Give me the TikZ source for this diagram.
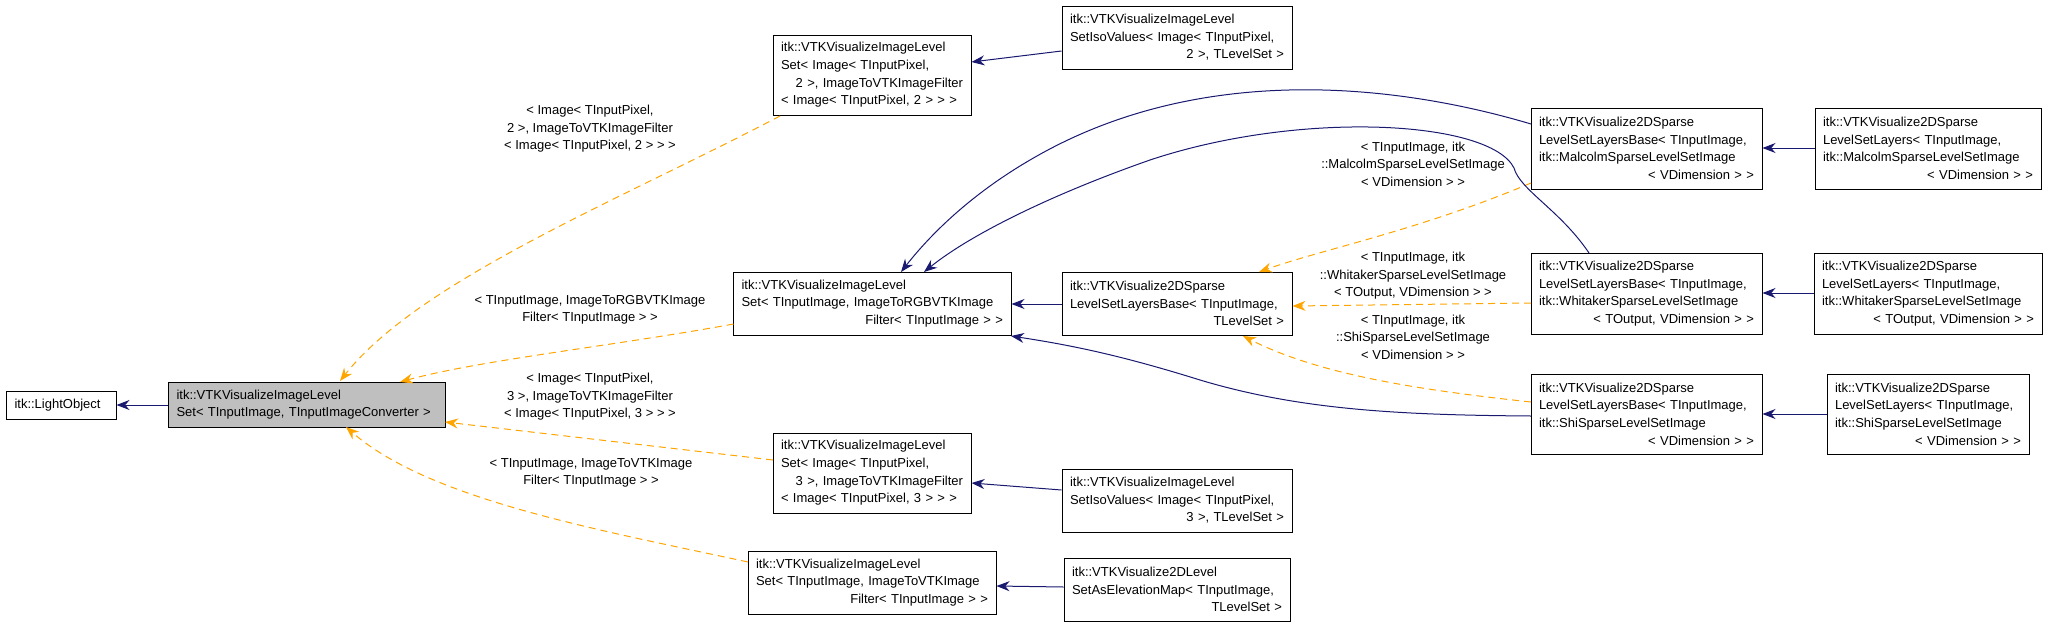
\documentclass[tikz,border=0pt]{standalone}
\usepackage{fontspec}
\setmainfont{Liberation Sans}
\usetikzlibrary{arrows.meta}
\definecolor{nv}{HTML}{191970}
\definecolor{og}{HTML}{FFA500}
\begin{document}
\begin{tikzpicture}[x=1pt,y=-1pt,
  every node/.style={font=\fontsize{13}{17.6}\selectfont},
  bx/.style={draw=black,line width=1pt,inner sep=0pt,fill=white},
  nav/.style={draw=nv,line width=1pt,-{Stealth[length=13pt,width=10pt]}},
  org/.style={draw=og,line width=1pt,dash pattern=on 7pt off 5pt,-{Stealth[length=13pt,width=10pt]}},
  lb/.style={align=center,inner sep=0pt}]
\useasboundingbox (0,0) rectangle (2048,624);
\newcommand{\bxx}[7][white]{%
  \node[bx,fill=#1,minimum width={#5-#3},minimum height={#6-#4},text width={#5-#3-16},align=left] (#2) at ({(#3+#5)/2},{(#4+#6)/2}) {#7};}
\newcommand{\cl}[1]{\hspace*{\fill}#1\hspace*{\fill}}
\bxx{light}{6.5}{391}{116}{419}{itk::LightObject}
\bxx[black!25]{main}{168.5}{382}{445}{427}{itk::VTKVisualizeImageLevel\\Set< TInputImage, TInputImageConverter >}
\bxx{atwo}{773}{35}{971}{115}{itk::VTKVisualizeImageLevel\\Set< Image< TInputPixel,\\\cl{2 >, ImageToVTKImageFilter}\\< Image< TInputPixel, 2 > > >}
\bxx{rgb}{733.5}{272}{1011}{335}{itk::VTKVisualizeImageLevel\\Set< TInputImage, ImageToRGBVTKImage\\\cl{Filter< TInputImage > >}}
\bxx{athree}{773}{433}{971}{513}{itk::VTKVisualizeImageLevel\\Set< Image< TInputPixel,\\\cl{3 >, ImageToVTKImageFilter}\\< Image< TInputPixel, 3 > > >}
\bxx{vtk}{748}{551}{996}{614}{itk::VTKVisualizeImageLevel\\Set< TInputImage, ImageToVTKImage\\\cl{Filter< TInputImage > >}}
\bxx{isotwo}{1062}{6}{1292}{69}{itk::VTKVisualizeImageLevel\\SetIsoValues< Image< TInputPixel,\\\cl{2 >, TLevelSet >}}
\bxx{sparse}{1062}{272}{1292}{335}{itk::VTKVisualize2DSparse\\LevelSetLayersBase< TInputImage,\\\cl{TLevelSet >}}
\bxx{isothree}{1062}{469}{1292}{532}{itk::VTKVisualizeImageLevel\\SetIsoValues< Image< TInputPixel,\\\cl{3 >, TLevelSet >}}
\bxx{elev}{1064}{558}{1290}{621}{itk::VTKVisualize2DLevel\\SetAsElevationMap< TInputImage,\\\cl{TLevelSet >}}
\bxx{mb}{1531}{108}{1762}{189}{itk::VTKVisualize2DSparse\\LevelSetLayersBase< TInputImage,\\itk::MalcolmSparseLevelSetImage\\\cl{< VDimension > >}}
\bxx{wb}{1531}{253}{1762}{334}{itk::VTKVisualize2DSparse\\LevelSetLayersBase< TInputImage,\\itk::WhitakerSparseLevelSetImage\\\cl{< TOutput, VDimension > >}}
\bxx{sb}{1531}{374}{1762}{454}{itk::VTKVisualize2DSparse\\LevelSetLayersBase< TInputImage,\\itk::ShiSparseLevelSetImage\\\cl{< VDimension > >}}
\bxx{ml}{1815}{108}{2041}{189}{itk::VTKVisualize2DSparse\\LevelSetLayers< TInputImage,\\itk::MalcolmSparseLevelSetImage\\\cl{< VDimension > >}}
\bxx{wl}{1814}{253}{2042}{334}{itk::VTKVisualize2DSparse\\LevelSetLayers< TInputImage,\\itk::WhitakerSparseLevelSetImage\\\cl{< TOutput, VDimension > >}}
\bxx{sl}{1827}{374}{2029}{454}{itk::VTKVisualize2DSparse\\LevelSetLayers< TInputImage,\\itk::ShiSparseLevelSetImage\\\cl{< VDimension > >}}
% coordinates
\coordinate (a2s) at (780,116); \coordinate (m1) at (340,381);
\coordinate (rgbs) at (733.5,324); \coordinate (m2) at (400,382);
\coordinate (a3s) at (773,460); \coordinate (m3) at (445,422);
\coordinate (vs) at (748,562); \coordinate (m4) at (346,427);
% orange
\draw[org] (a2s) .. controls (620,200) and (420,280) .. (m1);
\draw[org] (rgbs) .. controls (620,345) and (480,360) .. (m2);
\draw[org] (a3s) -- (m3);
\draw[org] (vs) .. controls (600,530) and (430,500) .. (m4);
\draw[org] (1531,183) .. controls (1420,230) and (1320,250) .. (1259,272);
\draw[org] (1531,303) -- (sparse.east |- 0,306);
\draw[org] (1531,402) .. controls (1420,390) and (1320,375) .. (1243,336);
% navy
\draw[nav] (main.west |- 0,405) -- (light.east |- 0,405);
\draw[nav] (isotwo.west |- 0,51) -- (atwo.east |- 0,62);
\draw[nav] (sparse.west |- 0,304) -- (rgb.east |- 0,304);
\draw[nav] (isothree.west |- 0,490) -- (atwo.east |- 0,483);
\draw[nav] (elev.west |- 0,587) -- (vtk.east |- 0,586);
\draw[nav] (ml.west |- 0,148) -- (mb.east |- 0,148);
\draw[nav] (wl.west |- 0,293) -- (wb.east |- 0,293);
\draw[nav] (sl.west |- 0,414) -- (sb.east |- 0,414);
\draw[nav] (1531,124) .. controls (1400,85) and (1200,60) .. (1030,160) .. controls (970,195) and (930,235) .. (901,272);
\draw[nav] (1589,253) .. controls (1560,210) and (1520,190) .. (1514,168) .. controls (1490,120) and (1300,110) .. (1150,160) .. controls (1050,195) and (970,235) .. (924,272);
\draw[nav] (1531,416) .. controls (1400,415) and (1300,410) .. (1200,380) .. controls (1120,355) and (1070,345) .. (1011,336);
% labels
\node[lb] (l1) at (590,129) {< Image< TInputPixel,\\2 >, ImageToVTKImageFilter\\< Image< TInputPixel, 2 > > >};
\node[lb] (l2) at (590,310) {< TInputImage, ImageToRGBVTKImage\\Filter< TInputImage > >};
\node[lb] (l3) at (590,397) {< Image< TInputPixel,\\3 >, ImageToVTKImageFilter\\< Image< TInputPixel, 3 > > >};
\node[lb] (l4) at (591,473) {< TInputImage, ImageToVTKImage\\Filter< TInputImage > >};
\node[lb] (l5) at (1413,164) {< TInputImage, itk\\::MalcolmSparseLevelSetImage\\< VDimension > >};
\node[lb] (l6) at (1413,276) {< TInputImage, itk\\::WhitakerSparseLevelSetImage\\< TOutput, VDimension > >};
\node[lb] (l7) at (1413,337) {< TInputImage, itk\\::ShiSparseLevelSetImage\\< VDimension > >};
\end{tikzpicture}
\end{document}
